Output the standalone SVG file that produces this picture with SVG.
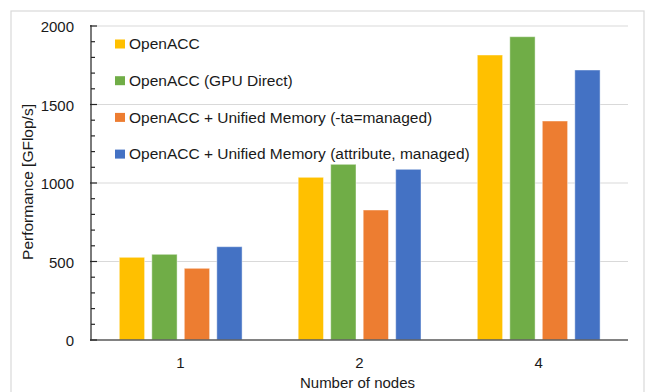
<svg xmlns="http://www.w3.org/2000/svg" width="646" height="392" viewBox="0 0 646 392">
<style>
text{font-family:"Liberation Sans",Arial,sans-serif;fill:#1a1a1a}
.tick{font-size:15px;text-anchor:end}
.xl{font-size:15px;text-anchor:middle}
.leg{font-size:15.5px}
.grid{stroke:#d9d9d9;stroke-width:1.2}
.bar{stroke:#ffffff;stroke-opacity:0.45;stroke-width:1}
.y{fill:#FFC000}.g{fill:#70AD47}.o{fill:#ED7D31}.b{fill:#4472C4}
.tk{stroke:#262626;stroke-width:1.2}
</style>
<rect x="0" y="0" width="646" height="392" fill="#ffffff"/>
<rect x="11" y="11" width="633" height="390" fill="#ffffff" stroke="#d9d9d9" stroke-width="1.2"/>
<g id="gridlines">
<line class="grid" x1="91" y1="26" x2="628" y2="26"/>
<line class="grid" x1="91" y1="104.5" x2="628" y2="104.5"/>
<line class="grid" x1="91" y1="183" x2="628" y2="183"/>
<line class="grid" x1="91" y1="261.5" x2="628" y2="261.5"/>
</g>
<g id="bars">
<rect class="bar y" x="119.3" y="257.3" width="25.3" height="82.7"/>
<rect class="bar g" x="151.8" y="254.3" width="25.3" height="85.7"/>
<rect class="bar o" x="184.3" y="268.3" width="25.3" height="71.7"/>
<rect class="bar b" x="216.8" y="246.7" width="25.3" height="93.3"/>
<rect class="bar y" x="298.2" y="177.3" width="25.3" height="162.7"/>
<rect class="bar g" x="330.7" y="164.3" width="25.3" height="175.7"/>
<rect class="bar o" x="363.2" y="210" width="25.3" height="130"/>
<rect class="bar b" x="395.7" y="169.3" width="25.3" height="170.7"/>
<rect class="bar y" x="477.3" y="55" width="25.3" height="285"/>
<rect class="bar g" x="509.8" y="36.7" width="25.3" height="303.3"/>
<rect class="bar o" x="542.3" y="121" width="25.3" height="219"/>
<rect class="bar b" x="574.8" y="70" width="25.3" height="270"/>
</g>
<g id="axes">
<line x1="91" y1="25" x2="91" y2="340.5" stroke="#7a7a7a" stroke-width="2"/>
<line x1="90" y1="340" x2="628" y2="340" stroke="#595959" stroke-width="1.6"/>
<line class="tk" x1="90" y1="26" x2="97" y2="26"/>
<line class="tk" x1="91" y1="41.7" x2="95" y2="41.7"/>
<line class="tk" x1="91" y1="57.4" x2="95" y2="57.4"/>
<line class="tk" x1="91" y1="73.1" x2="95" y2="73.1"/>
<line class="tk" x1="91" y1="88.8" x2="95" y2="88.8"/>
<line class="tk" x1="90" y1="104.5" x2="97" y2="104.5"/>
<line class="tk" x1="91" y1="120.2" x2="95" y2="120.2"/>
<line class="tk" x1="91" y1="135.9" x2="95" y2="135.9"/>
<line class="tk" x1="91" y1="151.6" x2="95" y2="151.6"/>
<line class="tk" x1="91" y1="167.3" x2="95" y2="167.3"/>
<line class="tk" x1="90" y1="183" x2="97" y2="183"/>
<line class="tk" x1="91" y1="198.7" x2="95" y2="198.7"/>
<line class="tk" x1="91" y1="214.4" x2="95" y2="214.4"/>
<line class="tk" x1="91" y1="230.1" x2="95" y2="230.1"/>
<line class="tk" x1="91" y1="245.8" x2="95" y2="245.8"/>
<line class="tk" x1="90" y1="261.5" x2="97" y2="261.5"/>
<line class="tk" x1="91" y1="277.2" x2="95" y2="277.2"/>
<line class="tk" x1="91" y1="292.9" x2="95" y2="292.9"/>
<line class="tk" x1="91" y1="308.6" x2="95" y2="308.6"/>
<line class="tk" x1="91" y1="324.3" x2="95" y2="324.3"/>
<line class="tk" x1="90" y1="340" x2="97" y2="340"/>
</g>
<g id="y-labels">
<text class="tick" x="74" y="32">2000</text>
<text class="tick" x="74" y="110.5">1500</text>
<text class="tick" x="74" y="189">1000</text>
<text class="tick" x="74" y="267.5">500</text>
<text class="tick" x="74" y="346">0</text>
</g>
<g id="x-labels">
<text class="xl" x="180.3" y="367.5">1</text>
<text class="xl" x="359.5" y="367.5">2</text>
<text class="xl" x="538.6" y="367.5">4</text>
<text class="xl" x="357.5" y="387.5">Number of nodes</text>
</g>
<text class="leg" text-anchor="middle" transform="translate(33,182) rotate(-90)">Performance [GFlop/s]</text>
<g id="legend">
<rect class="y" x="115" y="39.5" width="10" height="9"/>
<text class="leg" x="129" y="49.3">OpenACC</text>
<rect class="g" x="115" y="76.2" width="10" height="9"/>
<text class="leg" x="129" y="86">OpenACC (GPU Direct)</text>
<rect class="o" x="115" y="112.9" width="10" height="9"/>
<text class="leg" x="129" y="122.7">OpenACC + Unified Memory (-ta=managed)</text>
<rect class="b" x="115" y="149.6" width="10" height="9"/>
<text class="leg" x="129" y="159.4">OpenACC + Unified Memory (attribute, managed)</text>
</g>
</svg>
